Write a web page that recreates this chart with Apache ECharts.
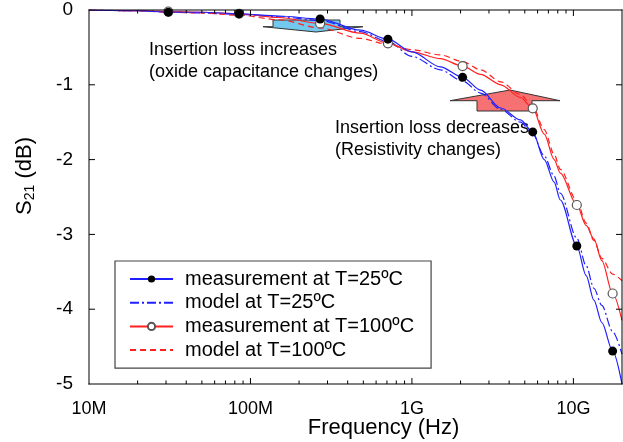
<!DOCTYPE html>
<html>
<head>
<meta charset="utf-8">
<script src="https://cdn.jsdelivr.net/npm/echarts@6/dist/echarts.min.js"></script>
<style>
  html, body { margin: 0; padding: 0; background: #fff; }
  #chart { width: 623px; height: 442px; }
</style>
</head>
<body>
<div id="chart"></div>
<script>
// frequency grid (Hz) shared by the four curves
const freqs = [1e7, 2e7, 3.1e7, 5e7, 8.5e7, 1.5e8, 2.7e8, 4.8e8, 7.1e8, 1e9, 1.5e9, 2.06e9, 2.66e9,
  3.55e9, 4.7e9, 5.6e9, 6.6e9, 7.6e9, 8.3e9, 1.05e10, 1.2e10, 1.34e10, 1.5e10, 1.75e10, 2e10]

// S21 (dB)
const meas25 = [0, -0.01, -0.03, -0.03, -0.05, -0.08, -0.12, -0.27, -0.39, -0.56, -0.76, -0.9, -1.07,
  -1.31, -1.47, -1.63, -2.0, -2.3, -2.54, -3.155, -3.55, -3.88, -4.18, -4.56, -5.0]
const model25 = [0, -0.01, -0.02, -0.04, -0.06, -0.09, -0.14, -0.29, -0.42, -0.62, -0.8, -0.95, -1.11,
  -1.33, -1.5, -1.66, -1.95, -2.22, -2.45, -3.05, -3.42, -3.72, -3.95, -4.3, -4.6]
const meas100 = [0, -0.01, -0.02, -0.03, -0.05, -0.1, -0.18, -0.31, -0.445, -0.56, -0.65, -0.75, -0.86,
  -1.0, -1.17, -1.315, -1.66, -2.0, -2.18, -2.607, -2.88, -3.06, -3.35, -3.79, -4.15]
const model100 = [0, -0.01, -0.03, -0.04, -0.07, -0.13, -0.24, -0.38, -0.46, -0.53, -0.6, -0.69, -0.8,
  -0.96, -1.13, -1.29, -1.6, -1.93, -2.13, -2.55, -2.85, -3.08, -3.32, -3.53, -3.62]

// frequencies where the measured points are marked
const markerFreqs = [3.1e7, 8.5e7, 2.7e8, 7.1e8, 2.06e9, 5.6e9, 1.05e10, 1.75e10]

const xTickValues = [1e7, 1e8, 1e9, 1e10]
const xTickLabels = ['10M', '100M', '1G', '10G']
const minorTickFreqs = [2e7, 3e7, 4e7, 5e7, 6e7, 7e7, 8e7, 9e7,
  2e8, 3e8, 4e8, 5e8, 6e8, 7e8, 8e8, 9e8,
  2e9, 3e9, 4e9, 5e9, 6e9, 7e9, 8e9, 9e9]
const yTickValues = [-1, -2, -3, -4]

const seriesNames = ['measurement at T=25ºC', 'model at T=25ºC', 'measurement at T=100ºC', 'model at T=100ºC']

const FONT = 'Arial, "Liberation Sans", sans-serif'
const BLUE = '#1f1fff'
const RED = '#ff2020'
const X_MIN = 1e7
const X_MAX = 2e10
const Y_MIN = -5
const Y_MAX = 0
const GRID = { left: 89, right: 1, top: 10, bottom: 58 }

function curve(values, marked) {
  return freqs.map((f, i) => {
    if (marked && markerFreqs.includes(f)) return { value: [f, values[i]] }
    return { value: [f, values[i]], symbol: 'none' }
  })
}

function xLabel(v) {
  const p = Math.log10(v)
  const k = xTickValues.findIndex((t) => Math.abs(Math.log10(t) - p) < 1e-6)
  return k >= 0 ? xTickLabels[k] : ''
}

// thin filled bars for frame and ticks
function bar(x, y, w, h) {
  return { type: 'rect', z: 100, shape: { x, y, width: w, height: h }, style: { fill: '#000', stroke: null } }
}

const annotations = [
  {
    type: 'polygon',
    shape: { points: [[273, 20], [340, 20], [340, 26.7], [363, 26.7], [316, 32], [263, 26.7], [273, 26.7]] },
    style: { fill: 'rgba(100,195,235,0.9)', stroke: '#333', lineWidth: 1 },
  },
  {
    type: 'polygon',
    shape: { points: [[477, 111], [477, 100.7], [450, 100.7], [510, 90], [560, 100.7], [532, 100.7], [532, 111]] },
    style: { fill: 'rgba(245,95,95,0.88)', stroke: '#333', lineWidth: 1 },
  },
  {
    type: 'text',
    x: 149,
    y: 39,
    style: { text: 'Insertion loss increases\n(oxide capacitance changes)', font: '18px ' + FONT, fill: '#000', lineHeight: 22 },
  },
  {
    type: 'text',
    x: 335,
    y: 117,
    style: { text: 'Insertion loss decreases\n(Resistivity changes)', font: '18px ' + FONT, fill: '#000', lineHeight: 22 },
  },
  {
    // x axis title
    type: 'text',
    x: 383.5,
    y: 428,
    style: { text: 'Frequency (Hz)', font: '22px ' + FONT, fill: '#000', align: 'center', verticalAlign: 'middle' },
  },
]

const el = document.getElementById('chart')
const chart = echarts.init(el)

chart.setOption({
  backgroundColor: '#fff',
  animation: false,
  textStyle: { fontFamily: FONT },
  grid: { ...GRID, outerBoundsMode: 'none' },
  xAxis: {
    type: 'log',
    logBase: 10,
    min: X_MIN,
    max: X_MAX,
    axisLine: { show: false },
    axisTick: { show: false },
    splitLine: { show: false },
    axisLabel: { fontSize: 18, color: '#000', margin: 16, formatter: xLabel },
  },
  yAxis: {
    type: 'value',
    min: Y_MIN,
    max: Y_MAX,
    interval: 1,
    axisLine: { show: false },
    axisTick: { show: false },
    splitLine: { show: false },
    name: '{s|S}{sub|21}{s| (dB)}',
    nameLocation: 'middle',
    nameGap: 52,
    nameTextStyle: {
      padding: [0, 0, 0, 42],
      rich: {
        s: { fontSize: 22, color: '#000', fontFamily: FONT },
        sub: { fontSize: 14, color: '#000', fontFamily: FONT, padding: [10, 0, 0, 0] },
      },
    },
    axisLabel: { fontSize: 19, color: '#000', margin: 16 },
  },
  legend: {
    data: [
      { name: seriesNames[0] },
      { name: seriesNames[1], itemStyle: { opacity: 0 } },
      { name: seriesNames[2] },
      { name: seriesNames[3], itemStyle: { opacity: 0 } },
    ],
    orient: 'vertical',
    left: 115,
    top: 261,
    padding: [7, 17, 7, 14],
    itemGap: 1.7,
    itemWidth: 43,
    itemHeight: 9,
    borderColor: '#444',
    borderWidth: 1.2,
    backgroundColor: '#fff',
    textStyle: { fontSize: 20, color: '#000', lineHeight: 22, fontFamily: FONT, padding: [0, 0, 0, 7] },
  },
  series: [
    {
      name: seriesNames[0],
      type: 'line',
      data: curve(meas25, true),
      symbol: 'circle',
      symbolSize: 9,
      smooth: 0.3,
      smoothMonotone: 'x',
      lineStyle: { color: BLUE, width: 1.2 },
      itemStyle: { color: '#000', borderWidth: 0 },
      z: 4,
    },
    {
      name: seriesNames[1],
      type: 'line',
      data: curve(model25, false),
      symbol: 'none',
      smooth: 0.3,
      smoothMonotone: 'x',
      lineStyle: { color: BLUE, width: 1.2, type: [9, 3, 2, 3] },
      itemStyle: { color: BLUE },
      z: 3,
    },
    {
      name: seriesNames[2],
      type: 'line',
      data: curve(meas100, true),
      symbol: 'circle',
      symbolSize: 9,
      smooth: 0.3,
      smoothMonotone: 'x',
      lineStyle: { color: RED, width: 1.2 },
      itemStyle: { color: '#fff', borderColor: '#555', borderWidth: 1.2 },
      z: 3,
    },
    {
      name: seriesNames[3],
      type: 'line',
      data: curve(model100, false),
      symbol: 'none',
      smooth: 0.3,
      smoothMonotone: 'x',
      lineStyle: { color: RED, width: 1.2, type: [6, 4] },
      itemStyle: { color: RED },
      z: 3,
    },
  ],
})

// pixel position through the chart's scales, with a plain log/linear fallback
function toPx(x, y) {
  let p = null
  try { p = chart.convertToPixel({ xAxisIndex: 0, yAxisIndex: 0 }, [x, y]) } catch (e) { p = null }
  if (p && isFinite(p[0]) && isFinite(p[1])) return p
  const l = GRID.left
  const r = el.clientWidth - GRID.right
  const t = GRID.top
  const b = el.clientHeight - GRID.bottom
  const lx = (Math.log10(x) - Math.log10(X_MIN)) / (Math.log10(X_MAX) - Math.log10(X_MIN))
  return [l + lx * (r - l), t + ((Y_MAX - y) / (Y_MAX - Y_MIN)) * (b - t)]
}

const tl = toPx(X_MIN, Y_MAX)
const br = toPx(X_MAX, Y_MIN)
const W = br[0] - tl[0]
const H = br[1] - tl[1]
const frame = [
  bar(tl[0] - 0.5, tl[1] - 0.5, W + 1, 1),
  bar(tl[0] - 0.5, br[1] - 0.5, W + 1, 1),
  bar(tl[0] - 0.5, tl[1] - 0.5, 1, H + 1),
  bar(br[0] - 0.5, tl[1] - 0.5, 1, H + 1),
]
xTickValues.slice(1).concat(minorTickFreqs).forEach((f) => {
  const len = xTickValues.includes(f) ? 6 : 3.5
  const x = toPx(f, Y_MIN)[0]
  frame.push(bar(x - 0.5, br[1] - len, 1, len), bar(x - 0.5, tl[1], 1, len))
})
yTickValues.forEach((v) => {
  const y = toPx(X_MIN, v)[1]
  frame.push(bar(tl[0], y - 0.5, 6, 1), bar(br[0] - 6, y - 0.5, 6, 1))
})

chart.setOption({ graphic: annotations.concat(frame) })
</script>
</body>
</html>
